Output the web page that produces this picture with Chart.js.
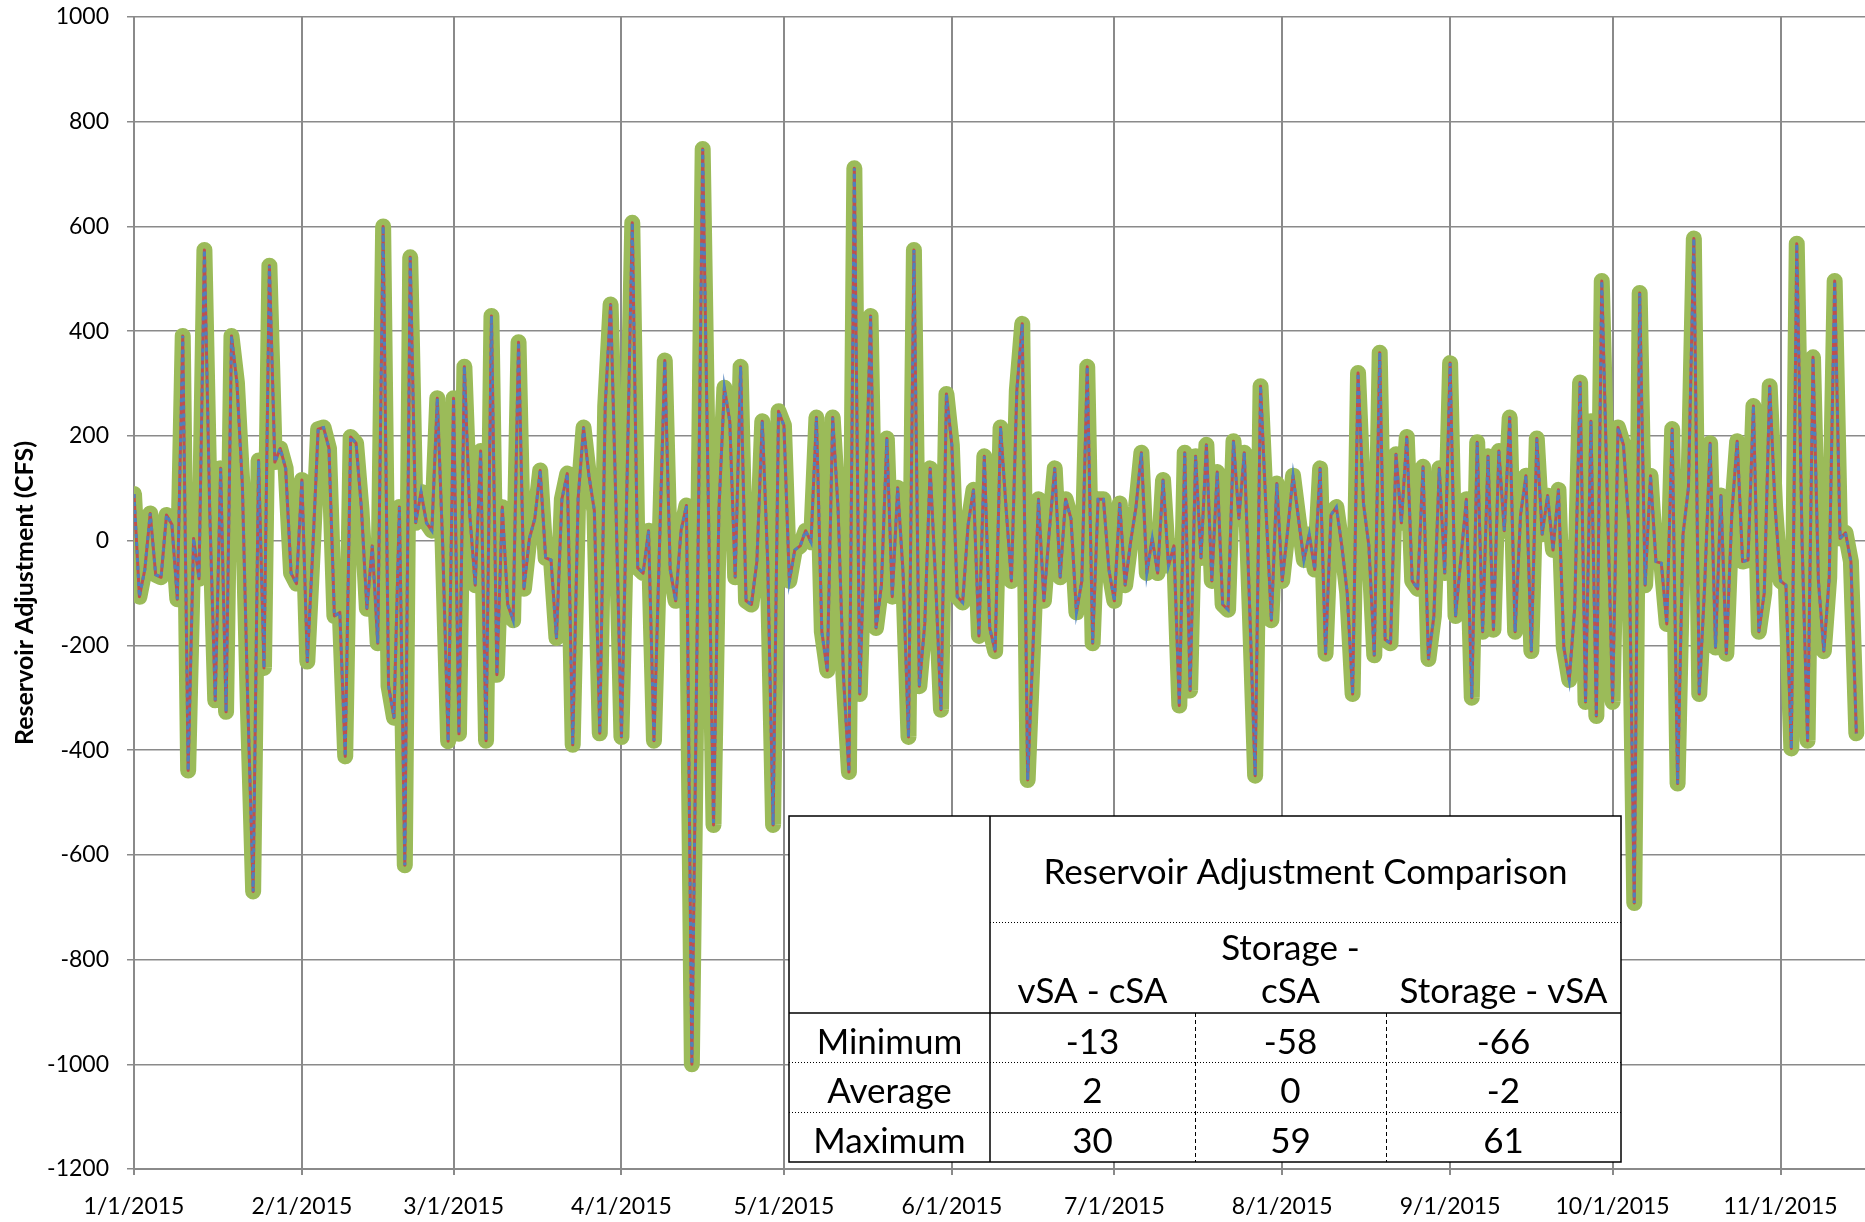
<!doctype html>
<html lang="en">
  <head>
    <meta charset="utf-8">
    <style>
      * {
        margin: 0;
        padding: 0;
      }
      body {
        background: #fff;
      }
      .chartBox {
        width: 1865px;
        height: 1222px;
      }
    </style>
  </head>
  <body>
    <div class="chartBox">
      <canvas id="myChart"></canvas>
    </div>
    <script src="https://cdn.jsdelivr.net/npm/chart.js/dist/chart.umd.min.js"></script>
    <script>
    // data: one value per day from 1/1/2015
    const startDate = '1/1/2015';
    const monthTicks = ['1/1/2015', '2/1/2015', '3/1/2015', '4/1/2015', '5/1/2015', '6/1/2015',
      '7/1/2015', '8/1/2015', '9/1/2015', '10/1/2015', '11/1/2015'];

    const adjustment = [
      // Jan
      89, -107, -55, 52, -65, -70, 49, 31, -112, 391, -439, 4, -73, 555, 50, -305,
      138, -327, 391, 302, 109, -308, -670, 153, -243, 525, 150, 176, 138, -62, -82,
      // Feb
      116, -231, -20, 213, 216, 176, -144, -137, -412, 198, 186, 60, -130, -10,
      -196, 600, -278, -338, 64, -620, 541, 34, 93, 34, 19, 272, -10, -383,
      // Mar
      272, -369, 332, 49, -85, 171, -382, 429, -256, 64, -122, -152, 379, -92, 4, 42,
      134, -33, -37, -186, 79, 128, -390, 80, 216, 124, 57, -368, 257, 451, 60,
      // Apr
      -375, 100, 607, -52, -62, 19, -382, -20, 344, -55, -115, 19, 67, -1000, -150,
      748, 100, -543, 60, 292, 228, -70, 332, -115, -122, -40, 228, -40, -543, 247,
      // May
      220, -77, -18, -10, 19, -3, 235, -174, -248, 235, 60, -260, -442, 711, -293, 50,
      429, -167, -85, 195, -107, 101, -62, -375, 555, -278, -159, 138, -77, -323, 280,
      // Jun
      183, -107, -118, 30, 97, -182, 161, -167, -211, 216, 64, -77, 287, 414, -457,
      -200, 79, -115, 19, 138, -70, 79, 42, -137, -77, 332, -196, 79, 79, -55,
      // Jul
      -115, 71, -85, -3, 64, 168, -62, 4, -62, 116, -48, -10, -315, 168, -286, 161,
      -33, 183, -77, 131, -122, -132, 190, 42, 168, -130, -449, 295, 60, -152, 109,
      // Aug
      -77, 19, 124, 42, -37, 12, -55, 138, -216, 49, 64, -10, -100, -293, 320, 71,
      -10, -219, 359, -189, -196, 165, 34, 198, -77, -92, 141, -226, -144, 138, -62,
      // Sep
      339, -144, -33, 79, -300, 188, -174, 161, -170, 171, 19, 235, -174, 49, 124,
      -211, 195, 12, 86, -18, 97, -204, -266, -129, 302, -308, 228, -335, 496, 90,
      // Oct
      -308, 216, 183, 30, -692, 473, -85, 124, -40, -43, -159, 213, -464, 12, 101, 577,
      -293, -85, 186, -204, 86, -216, 49, 190, -40, -37, 257, -174, -100, 295, 64,
      // Nov
      -77, -85, -397, 567, -10, -382, 350, -77, -211, -70, 496, 4, 15, -40, -368
    ];

    // comparison table
    const statCols = ['vSA - cSA', 'Storage - cSA', 'Storage - vSA'];
    const statRows = ['Minimum', 'Average', 'Maximum'];
    const statValues = [
      [-13, -58, -66],
      [2, 0, -2],
      [30, 59, 61]
    ];
    const tableTitle = 'Reservoir Adjustment Comparison';

    // helpers
    function dayOf(label) {
      const [m, d, y] = label.split('/').map(Number);
      const [m0, d0, y0] = startDate.split('/').map(Number);
      return (Date.UTC(y, m - 1, d) - Date.UTC(y0, m0 - 1, d0)) / 864e5;
    }
    const tickDays = monthTicks.map(dayOf);
    const points = adjustment.map((v, i) => ({ x: i, y: v }));

    const FONT = 'Lato, "Open Sans", sans-serif';

    // table plugin
    const statsTable = {
      id: 'statsTable',
      afterDraw(chart) {
        const { ctx } = chart;
        const L = 789, T = 816, R = 1621, B = 1162;
        const colX = [789, 990, 1195, 1386, 1621];
        const titleLine = 922, headBottom = 1013;
        const rowLines = [1013, 1062, 1112, 1162];

        ctx.save();
        ctx.fillStyle = '#fff';
        ctx.fillRect(L, T, R - L, B - T);

        ctx.strokeStyle = '#000';
        // dotted lines
        ctx.lineWidth = 1;
        ctx.setLineDash([1, 2]);
        ctx.beginPath();
        ctx.moveTo(colX[1], titleLine + 0.5);
        ctx.lineTo(R, titleLine + 0.5);
        ctx.moveTo(L, rowLines[1] + 0.5);
        ctx.lineTo(R, rowLines[1] + 0.5);
        ctx.moveTo(L, rowLines[2] + 0.5);
        ctx.lineTo(R, rowLines[2] + 0.5);
        ctx.stroke();

        // dashed column lines in the body
        ctx.setLineDash([4, 3]);
        ctx.beginPath();
        ctx.moveTo(colX[2] + 0.5, headBottom);
        ctx.lineTo(colX[2] + 0.5, B);
        ctx.moveTo(colX[3] + 0.5, headBottom);
        ctx.lineTo(colX[3] + 0.5, B);
        ctx.stroke();

        // solid lines
        ctx.setLineDash([]);
        ctx.lineWidth = 1.5;
        ctx.beginPath();
        ctx.moveTo(colX[1], T);
        ctx.lineTo(colX[1], B);
        ctx.moveTo(L, headBottom);
        ctx.lineTo(R, headBottom);
        ctx.stroke();
        ctx.strokeRect(L, T, R - L, B - T);

        // text
        ctx.fillStyle = '#000';
        ctx.textAlign = 'center';
        ctx.textBaseline = 'middle';
        ctx.font = '35px ' + FONT;
        ctx.fillText(tableTitle, (colX[1] + R) / 2, 873);

        statCols.forEach((label, c) => {
          const cx = (colX[c + 1] + colX[c + 2]) / 2;
          const maxW = colX[c + 2] - colX[c + 1] - 12;
          const words = label.split(' ');
          const lines = [];
          let line = '';
          words.forEach(w => {
            const test = line ? line + ' ' + w : w;
            if (line && ctx.measureText(test).width > maxW) {
              lines.push(line);
              line = w;
            } else {
              line = test;
            }
          });
          lines.push(line);
          lines.forEach((ln, k) => {
            ctx.fillText(ln, cx, 992 - (lines.length - 1 - k) * 43);
          });
        });

        statRows.forEach((label, r) => {
          const cy = (rowLines[r] + rowLines[r + 1]) / 2 + 5;
          ctx.fillText(label, (colX[0] + colX[1]) / 2, cy);
          statValues[r].forEach((v, c) => {
            ctx.fillText(String(v), (colX[c + 1] + colX[c + 2]) / 2, cy);
          });
        });
        ctx.restore();
      }
    };

    const data = {
      datasets: [
        {
          label: 'vSA',
          data: points,
          borderColor: '#4F81BD',
          borderWidth: 3,
          borderDash: [4, 4],
          pointRadius: 0,
          tension: 0,
          order: 1
        },
        {
          label: 'cSA',
          data: points,
          borderColor: '#C0504D',
          borderWidth: 3,
          borderJoinStyle: 'round',
          pointRadius: 0,
          tension: 0,
          order: 2
        },
        {
          label: 'Storage',
          data: points,
          borderColor: '#9BBB59',
          borderWidth: 16,
          borderJoinStyle: 'round',
          borderCapStyle: 'round',
          pointRadius: 0,
          tension: 0,
          order: 3
        }
      ]
    };

    const config = {
      type: 'line',
      data,
      options: {
        responsive: true,
        maintainAspectRatio: false,
        animation: false,
        events: [],
        layout: {
          padding: { top: 17, right: 0, bottom: 0, left: 0 }
        },
        scales: {
          x: {
            type: 'linear',
            min: 0,
            max: 319.6,
            afterBuildTicks(scale) {
              scale.ticks = tickDays.map(v => ({ value: v }));
            },
            afterFit(scale) {
              scale.height = 53;
              scale.paddingLeft = 0;
              scale.paddingRight = 0;
            },
            ticks: {
              autoSkip: false,
              maxRotation: 0,
              padding: 18,
              color: '#000',
              font: { family: FONT, size: 23 },
              callback: (value, index) => monthTicks[index]
            },
            grid: {
              color: '#8a8a8a',
              lineWidth: 2,
              tickLength: 6
            },
            border: { color: '#8a8a8a', width: 2 }
          },
          y: {
            min: -1200,
            max: 1000,
            afterFit(scale) {
              scale.width = 134;
              scale.paddingTop = 0;
              scale.paddingBottom = 0;
            },
            ticks: {
              stepSize: 200,
              padding: 18,
              color: '#000',
              font: { family: FONT, size: 23 },
              callback: (value) => String(value)
            },
            grid: {
              color: '#8a8a8a',
              lineWidth: 1.5,
              tickLength: 7
            },
            border: { color: '#8a8a8a', width: 2 },
            title: {
              display: true,
              text: 'Reservoir Adjustment (CFS)',
              color: '#000',
              font: { family: FONT, size: 25, weight: 'bold' },
              padding: { top: 10, bottom: 0 }
            }
          }
        },
        plugins: {
          legend: { display: false },
          tooltip: { enabled: false }
        }
      },
      plugins: [statsTable]
    };

    const myChart = new Chart(document.getElementById('myChart'), config);
    </script>
  </body>
</html>
